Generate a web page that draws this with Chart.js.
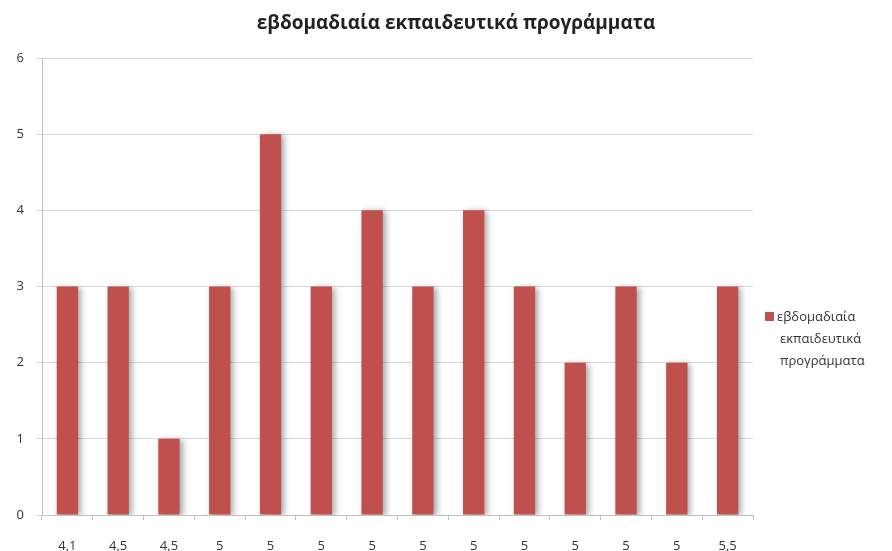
<!DOCTYPE html>
<html>
<head>
<meta charset="utf-8">
<script src="https://cdn.jsdelivr.net/npm/chart.js@4.4.0/dist/chart.umd.min.js"></script>
<style>
  html, body { margin: 0; padding: 0; background: #fff; }
  #wrap { width: 892px; height: 551px; }
</style>
</head>
<body>
<div id="wrap"><canvas id="chart"></canvas></div>
<script>
// δεδομένα
const categories = ['4,1', '4,5', '4,5', '5', '5', '5', '5', '5', '5', '5', '5', '5', '5', '5,5'];
const values = [3, 3, 1, 3, 5, 3, 4, 3, 4, 3, 2, 3, 2, 3];
const seriesName = 'εβδομαδιαία εκπαιδευτικά προγράμματα';
const legendLines = ['εβδομαδιαία', 'εκπαιδευτικά', 'προγράμματα'];
const yTicks = [0, 1, 2, 3, 4, 5, 6];

const barColor = '#c0504d';

// σκιά για τις μπάρες
const barShadow = {
    id: 'barShadow',
    beforeDatasetsDraw(chart) {
        const ctx = chart.ctx;
        ctx.save();
        ctx.shadowColor = 'rgba(0, 0, 0, 0.35)';
        ctx.shadowBlur = 6;
        ctx.shadowOffsetX = 3;
        ctx.shadowOffsetY = 1;
    },
    afterDatasetsDraw(chart) {
        chart.ctx.restore();
    }
};

// τίτλος στο κέντρο του καμβά + υπόμνημα σε τρεις γραμμές, δεξιά
const sideLegend = {
    id: 'sideLegend',
    afterDraw(chart) {
        const ctx = chart.ctx;
        ctx.save();
        ctx.fillStyle = '#222';
        ctx.font = 'bold 19px "Open Sans", sans-serif';
        ctx.textAlign = 'center';
        ctx.textBaseline = 'middle';
        ctx.fillText(seriesName, chart.width / 2 + 10, 24);

        const x = chart.chartArea.right + 12;
        const y = chart.scales.y.getPixelForValue(2.6);
        ctx.fillStyle = barColor;
        ctx.fillRect(x, y - 5, 9, 9);
        ctx.fillStyle = '#333';
        ctx.font = '13px "Open Sans", sans-serif';
        ctx.textAlign = 'left';
        ctx.fillText(legendLines[0], x + 12, y);
        ctx.fillText(legendLines[1], x + 15, y + 22);
        ctx.fillText(legendLines[2], x + 15, y + 44);
        ctx.restore();
    }
};

new Chart(document.getElementById('chart').getContext('2d'), {
    type: 'bar',
    data: {
        labels: categories,
        datasets: [{
            label: seriesName,
            data: values,
            backgroundColor: barColor,
            borderWidth: 0,
            categoryPercentage: 1,
            barPercentage: 0.42
        }]
    },
    options: {
        responsive: true,
        maintainAspectRatio: false,
        animation: false,
        layout: { padding: { left: 0, right: 139, top: 58, bottom: 0 } },
        scales: {
            y: {
                min: 0,
                max: 6,
                afterBuildTicks(axis) { axis.ticks = yTicks.map(v => ({ value: v })); },
                afterFit(axis) { axis.width = 42; },
                grid: { color: '#d9d9d9', tickLength: 6 },
                border: { color: '#bfbfbf' },
                ticks: { color: '#333', font: { size: 13, family: '"Open Sans", sans-serif' }, padding: 12 }
            },
            x: {
                afterFit(axis) { axis.height = 36; },
                grid: { drawOnChartArea: false, color: '#bfbfbf', tickLength: 5 },
                border: { color: '#bfbfbf' },
                ticks: { color: '#333', font: { size: 13, family: '"Open Sans", sans-serif' }, padding: 18 }
            }
        },
        plugins: {
            legend: { display: false },
            tooltip: { enabled: false },
            title: { display: false }
        }
    },
    plugins: [barShadow, sideLegend]
});
</script>
</body>
</html>
